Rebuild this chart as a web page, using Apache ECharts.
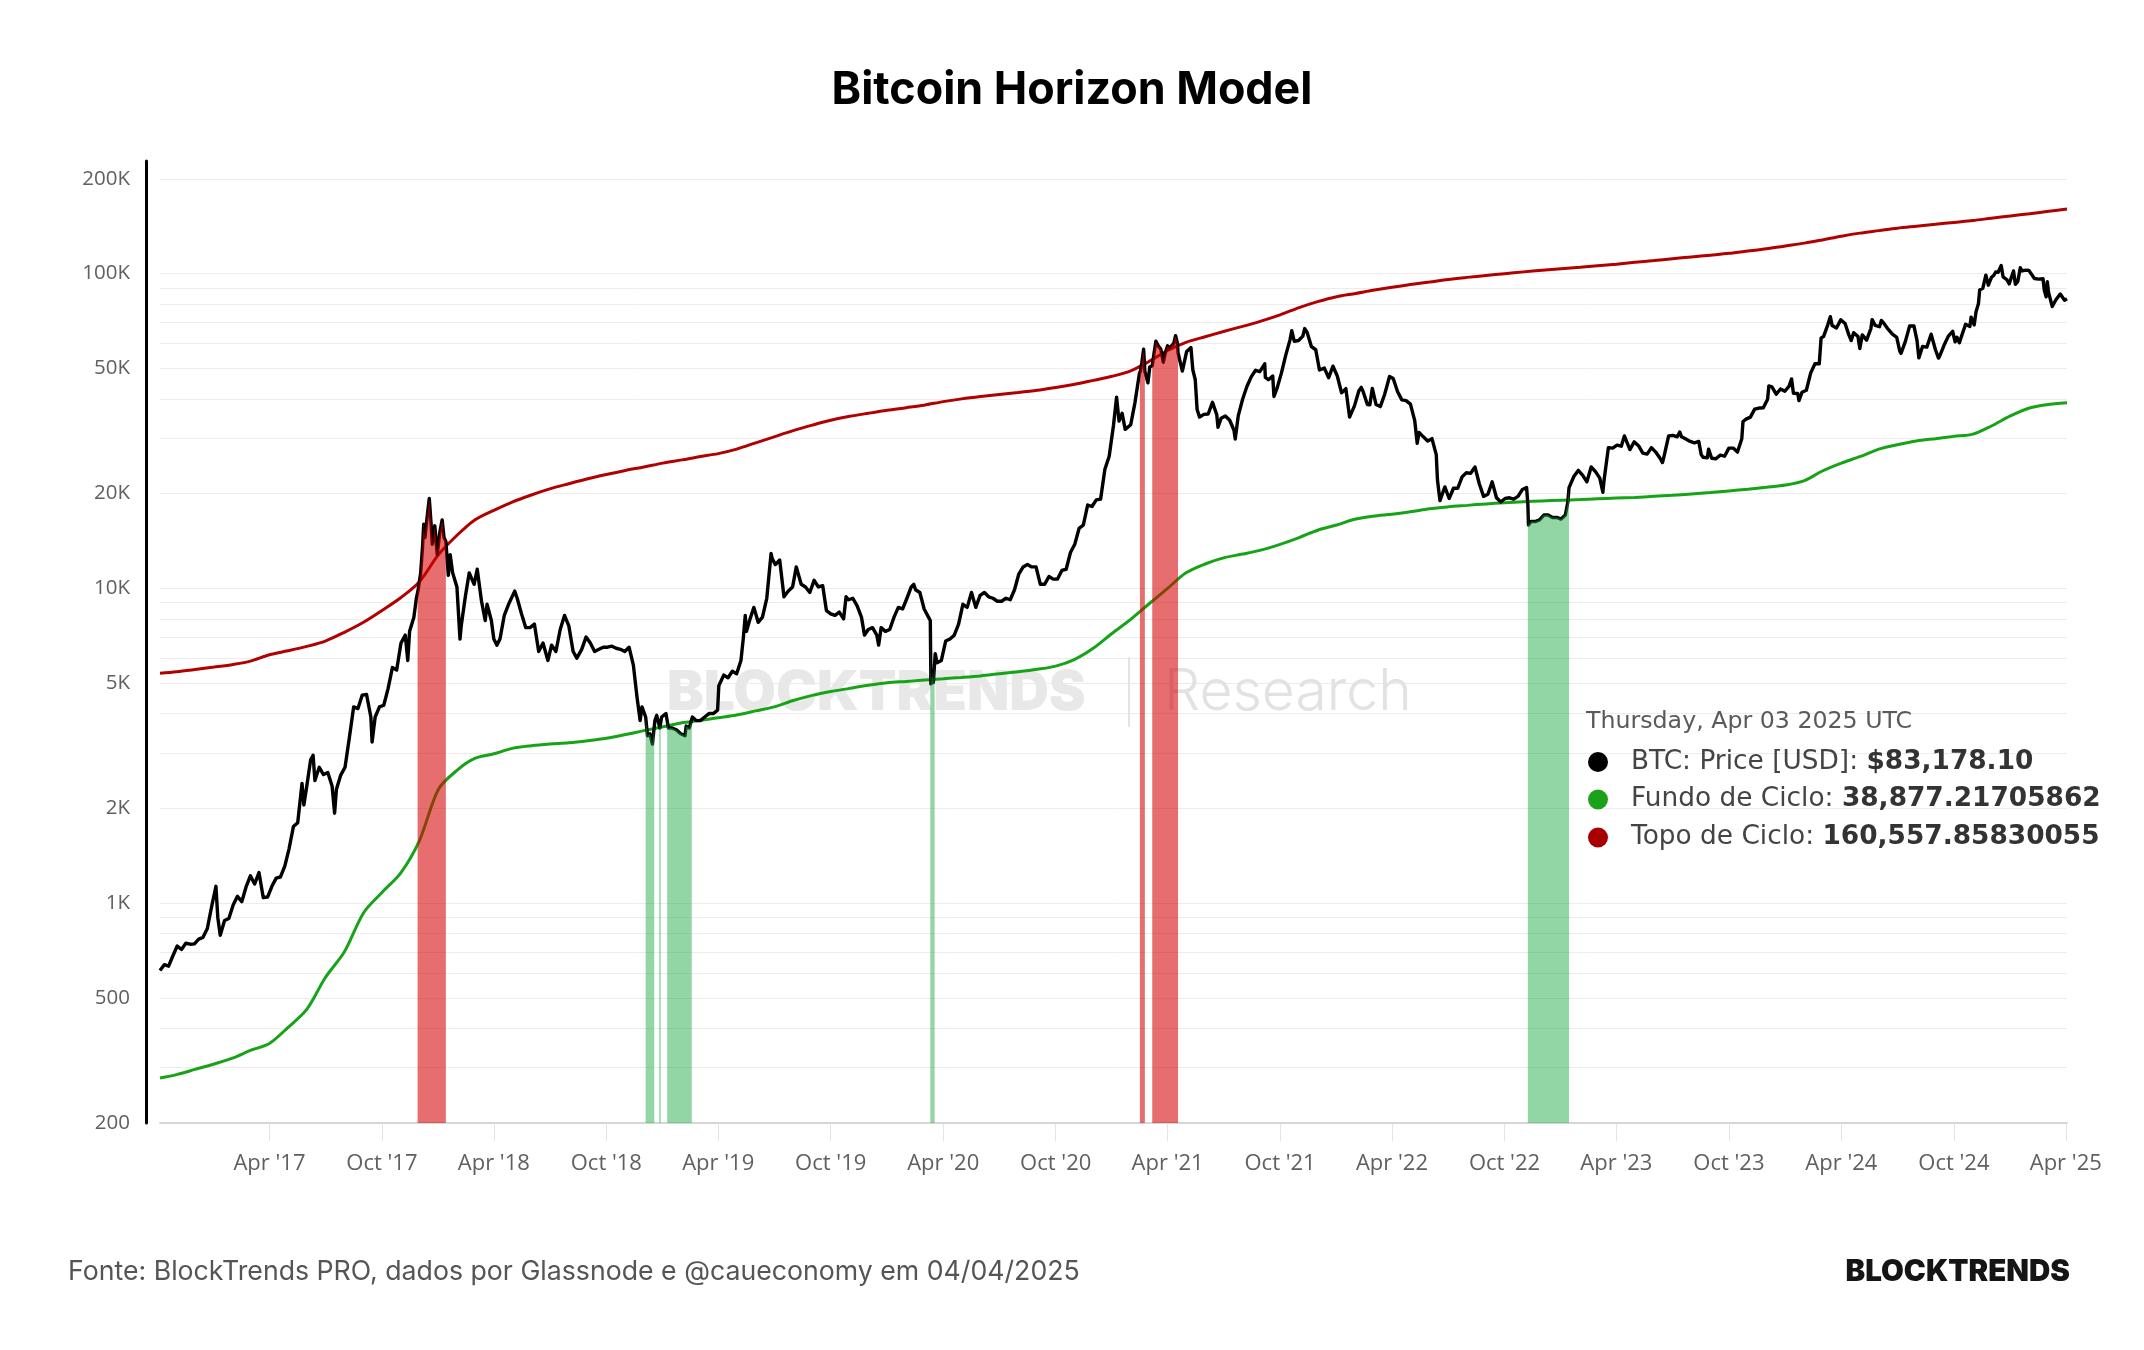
<!DOCTYPE html>
<html><head><meta charset="utf-8">
<script src="https://cdn.jsdelivr.net/npm/echarts@6/dist/echarts.min.js"></script>
<style>html,body{margin:0;padding:0;background:#fff}#c{width:2144px;height:1350px}</style>
</head><body><div id="c"></div>
<script>
// ---------- DATA ----------
const priceDates = [
'2016-10-05','2016-10-12','2016-10-19','2016-10-26','2016-11-02','2016-11-09','2016-11-16','2016-11-23','2016-11-30','2016-12-07','2016-12-14','2016-12-21','2016-12-28',
'2017-01-04','2017-01-07','2017-01-11','2017-01-18','2017-01-25','2017-02-01','2017-02-08','2017-02-15','2017-02-22','2017-03-01','2017-03-08','2017-03-15','2017-03-22','2017-03-29',
'2017-04-05','2017-04-12','2017-04-19','2017-04-26','2017-05-03','2017-05-10','2017-05-17','2017-05-24','2017-05-27','2017-05-31','2017-06-07','2017-06-11','2017-06-14','2017-06-21','2017-06-28',
'2017-07-05','2017-07-12','2017-07-16','2017-07-19','2017-07-26','2017-08-02','2017-08-09','2017-08-16','2017-08-23','2017-08-30','2017-09-06','2017-09-13','2017-09-15','2017-09-20','2017-09-27',
'2017-10-04','2017-10-11','2017-10-18','2017-10-25','2017-11-01','2017-11-08','2017-11-12','2017-11-15','2017-11-22','2017-11-26','2017-11-29','2017-12-03','2017-12-06','2017-12-08','2017-12-10','2017-12-13','2017-12-17','2017-12-20','2017-12-22','2017-12-26','2017-12-30',
'2018-01-03','2018-01-07','2018-01-10','2018-01-13','2018-01-17','2018-01-20','2018-01-24','2018-01-31','2018-02-05','2018-02-07','2018-02-14','2018-02-20','2018-02-28','2018-03-05','2018-03-12','2018-03-18','2018-03-21','2018-03-28',
'2018-04-01','2018-04-06','2018-04-11','2018-04-18','2018-04-25','2018-05-05','2018-05-09','2018-05-16','2018-05-23','2018-05-30','2018-06-06','2018-06-13','2018-06-20','2018-06-28',
'2018-07-04','2018-07-11','2018-07-18','2018-07-25','2018-08-01','2018-08-08','2018-08-14','2018-08-22','2018-08-29','2018-09-05','2018-09-12','2018-09-19','2018-09-26',
'2018-10-03','2018-10-10','2018-10-17','2018-10-24','2018-10-31','2018-11-07','2018-11-14','2018-11-20','2018-11-25','2018-11-28','2018-12-01','2018-12-04','2018-12-07','2018-12-11','2018-12-15','2018-12-19','2018-12-22','2018-12-24','2018-12-27','2018-12-30',
'2019-01-06','2019-01-10','2019-01-16','2019-01-23','2019-01-30','2019-02-06','2019-02-08','2019-02-13','2019-02-18','2019-02-24','2019-03-03','2019-03-10','2019-03-17','2019-03-24','2019-03-31',
'2019-04-02','2019-04-10','2019-04-17','2019-04-24','2019-05-01','2019-05-08','2019-05-12','2019-05-15','2019-05-17','2019-05-22','2019-05-29','2019-06-05','2019-06-12','2019-06-19','2019-06-26','2019-06-28',
'2019-07-03','2019-07-10','2019-07-17','2019-07-24','2019-07-31','2019-08-06','2019-08-14','2019-08-21','2019-08-28','2019-09-04','2019-09-11','2019-09-18','2019-09-24',
'2019-10-01','2019-10-08','2019-10-15','2019-10-22','2019-10-26','2019-10-30','2019-11-06','2019-11-13','2019-11-20','2019-11-25','2019-12-01','2019-12-08','2019-12-15','2019-12-18','2019-12-22','2019-12-29',
'2020-01-05','2020-01-12','2020-01-19','2020-01-26','2020-02-02','2020-02-09','2020-02-13','2020-02-16','2020-02-23','2020-03-01','2020-03-08','2020-03-11','2020-03-12','2020-03-14','2020-03-16','2020-03-19','2020-03-22','2020-03-29',
'2020-04-05','2020-04-12','2020-04-19','2020-04-26','2020-05-03','2020-05-10','2020-05-17','2020-05-24','2020-05-31','2020-06-07','2020-06-14','2020-06-21','2020-06-28',
'2020-07-05','2020-07-12','2020-07-19','2020-07-26','2020-08-02','2020-08-09','2020-08-16','2020-08-23','2020-08-30','2020-09-06','2020-09-13','2020-09-20','2020-09-27',
'2020-10-04','2020-10-11','2020-10-18','2020-10-25','2020-11-01','2020-11-08','2020-11-15','2020-11-22','2020-11-29','2020-12-06','2020-12-13','2020-12-20','2020-12-27',
'2021-01-03','2021-01-08','2021-01-12','2021-01-17','2021-01-22','2021-01-24','2021-01-31','2021-02-07','2021-02-14','2021-02-16','2021-02-18','2021-02-21','2021-02-23','2021-02-28',
'2021-03-03','2021-03-07','2021-03-10','2021-03-13','2021-03-17','2021-03-21','2021-03-25','2021-03-28','2021-04-01','2021-04-04','2021-04-11','2021-04-14','2021-04-17','2021-04-18','2021-04-25',
'2021-05-02','2021-05-09','2021-05-12','2021-05-16','2021-05-19','2021-05-23','2021-05-30','2021-06-06','2021-06-13','2021-06-20','2021-06-22','2021-06-27',
'2021-07-04','2021-07-11','2021-07-18','2021-07-20','2021-07-25','2021-08-01','2021-08-08','2021-08-15','2021-08-22','2021-08-29','2021-09-06','2021-09-07','2021-09-12','2021-09-19','2021-09-21','2021-09-26',
'2021-10-03','2021-10-10','2021-10-17','2021-10-20','2021-10-24','2021-10-31','2021-11-07','2021-11-10','2021-11-14','2021-11-21','2021-11-28','2021-12-04','2021-12-12','2021-12-19','2021-12-26',
'2022-01-02','2022-01-09','2022-01-16','2022-01-22','2022-01-30','2022-02-06','2022-02-10','2022-02-13','2022-02-20','2022-02-24','2022-02-28','2022-03-06','2022-03-13','2022-03-20','2022-03-28',
'2022-04-03','2022-04-10','2022-04-17','2022-04-24','2022-05-01','2022-05-08','2022-05-12','2022-05-15','2022-05-22','2022-05-29','2022-06-05','2022-06-12','2022-06-14','2022-06-18','2022-06-26',
'2022-07-03','2022-07-10','2022-07-17','2022-07-24','2022-07-31','2022-08-07','2022-08-14','2022-08-21','2022-08-28','2022-09-04','2022-09-11','2022-09-18','2022-09-25',
'2022-10-02','2022-10-09','2022-10-16','2022-10-23','2022-10-30','2022-11-06','2022-11-08','2022-11-09','2022-11-13','2022-11-20','2022-11-27','2022-12-04','2022-12-11','2022-12-18','2022-12-25',
'2023-01-01','2023-01-08','2023-01-12','2023-01-14','2023-01-22','2023-01-29','2023-02-05','2023-02-12','2023-02-19','2023-02-26','2023-03-05','2023-03-10','2023-03-12','2023-03-19','2023-03-26',
'2023-04-02','2023-04-09','2023-04-14','2023-04-16','2023-04-23','2023-04-30','2023-05-07','2023-05-14','2023-05-21','2023-05-28','2023-06-04','2023-06-11','2023-06-15','2023-06-18','2023-06-25',
'2023-07-02','2023-07-09','2023-07-13','2023-07-16','2023-07-23','2023-07-30','2023-08-06','2023-08-13','2023-08-17','2023-08-20','2023-08-27','2023-08-29','2023-09-03','2023-09-10','2023-09-17','2023-09-24',
'2023-10-01','2023-10-08','2023-10-15','2023-10-22','2023-10-24','2023-10-29','2023-11-05','2023-11-12','2023-11-19','2023-11-26','2023-12-03','2023-12-05','2023-12-10','2023-12-17','2023-12-24','2023-12-31',
'2024-01-07','2024-01-11','2024-01-14','2024-01-21','2024-01-23','2024-01-28','2024-02-04','2024-02-11','2024-02-18','2024-02-25','2024-02-28','2024-03-03','2024-03-10','2024-03-14','2024-03-17','2024-03-20','2024-03-24','2024-03-31',
'2024-04-07','2024-04-13','2024-04-17','2024-04-21','2024-04-28','2024-05-01','2024-05-05','2024-05-12','2024-05-19','2024-05-21','2024-05-26','2024-06-02','2024-06-05','2024-06-09','2024-06-16','2024-06-23','2024-06-30',
'2024-07-05','2024-07-07','2024-07-14','2024-07-21','2024-07-28','2024-08-02','2024-08-05','2024-08-11','2024-08-18','2024-08-25','2024-09-01','2024-09-06','2024-09-08','2024-09-15','2024-09-22','2024-09-29',
'2024-10-03','2024-10-06','2024-10-10','2024-10-13','2024-10-20','2024-10-27','2024-10-29','2024-11-03','2024-11-06','2024-11-10','2024-11-12','2024-11-17','2024-11-22','2024-11-26','2024-12-01','2024-12-05','2024-12-08','2024-12-12','2024-12-17','2024-12-20','2024-12-26','2024-12-30',
'2025-01-06','2025-01-09','2025-01-13','2025-01-17','2025-01-20','2025-01-26','2025-01-31','2025-02-03','2025-02-09','2025-02-16','2025-02-23','2025-02-25','2025-02-28','2025-03-02','2025-03-04','2025-03-10','2025-03-16','2025-03-23','2025-03-26','2025-03-30','2025-04-03'
];
const priceValues = [
610,637,630,680,730,712,745,740,742,768,778,830,975,
1130,900,790,880,893,985,1050,1010,1125,1220,1150,1250,1040,1045,
1130,1200,1210,1310,1490,1750,1800,2400,2050,2300,2850,2950,2450,2700,2560,
2600,2350,1930,2300,2550,2700,3350,4200,4150,4580,4600,3900,3250,3900,4200,
4250,4800,5600,5500,6700,7100,5900,7300,8100,9300,9900,11200,13500,16000,14500,16500,19300,16000,13800,15800,12800,
15000,16500,14500,14100,11000,12800,11200,10100,6900,7600,9500,11200,10300,11500,9100,7900,8900,7900,
6900,6600,6900,8200,8900,9800,9300,8300,7500,7500,7700,6300,6700,5900,
6600,6300,7400,8200,7600,6300,6000,6400,7000,6700,6300,6400,6500,
6500,6550,6450,6400,6300,6500,5700,4500,3800,4200,4200,3900,3400,3450,3200,3800,3950,4000,3600,3900,
4000,3600,3600,3550,3450,3400,3650,3600,3900,3800,3800,3900,4000,4000,4100,
4900,5300,5200,5450,5350,5900,7000,8200,7300,7900,8700,7800,8100,9300,12900,12400,
11900,12300,9400,9800,10100,11700,10300,10100,9700,10600,10100,10200,8500,
8300,8200,8400,8000,9400,9200,9300,8800,8100,7100,7400,7500,7100,6600,7500,7300,
7400,8100,8700,8600,9300,10100,10300,9900,9700,8600,8100,7900,4970,5400,5020,6200,5800,5900,
6800,6900,7100,7700,8900,8700,9700,8700,9500,9700,9400,9300,9100,
9100,9300,9200,9900,11100,11700,11900,11700,11700,10300,10300,10900,10700,
10700,11400,11500,13000,13800,15500,15900,18400,18200,19100,19200,23900,26300,
33000,40500,34000,36000,32000,32300,33100,39000,48000,49200,52000,57500,48900,45000,
50500,51000,56000,61000,58900,57500,52300,55800,59000,58000,60000,63500,60000,56000,49000,
56600,58200,49500,46000,37000,35000,35700,35800,39000,35600,32500,34700,
35300,34200,31800,29800,35400,39900,43800,47000,49300,48800,51700,46800,46000,47300,40700,43200,
48200,54900,61500,65900,61000,61300,63300,66900,65000,58600,57300,49400,50100,46700,50800,
47300,41800,43100,35000,38000,42400,43500,42200,38400,38300,43200,38400,37800,41300,47100,
46400,42200,39700,39500,38500,34100,28900,31300,30300,29400,29900,26600,22100,19000,21000,
19300,20800,20800,22600,23300,23200,24300,21500,19600,19900,21800,19400,18800,
19300,19400,19200,19600,20600,20900,18500,15900,16300,16300,16500,17100,17100,16800,16800,
16600,17100,18800,20900,22700,23700,22900,21800,24300,23500,22400,20200,22100,28000,27900,
28500,28300,30500,30300,27600,29200,28400,26900,26700,28000,27100,25900,25100,26500,30500,
30600,30300,31400,30300,29800,29300,29000,29300,26600,26100,26000,27700,25900,25800,26500,26300,
27900,27900,27100,29900,33900,34500,35000,37100,37400,37500,39900,44000,43700,41400,43000,42300,
43900,46300,41700,41600,39500,42000,42600,48300,51700,51700,62500,63100,68900,73000,68400,67900,67200,71300,
69400,64000,61300,64900,63100,57800,63900,61500,66900,71400,68500,67800,71000,69600,66600,64200,62700,
56700,55800,60800,68200,68200,61400,54000,58700,58400,64200,57300,53900,54800,59200,63300,65600,
60700,62800,60300,62900,69000,67900,72700,68700,75600,80400,88700,89800,98900,91900,97200,98800,101200,101000,106100,97700,95800,92800,
102000,92500,94500,104400,102000,102600,102400,101400,96500,96100,96300,88700,84400,94300,87200,78600,82600,86100,86900,82300,83178
];
const bandDates = [
'2016-10-05','2016-11-01','2016-12-01',
'2017-01-01','2017-02-01','2017-03-01','2017-04-01','2017-05-01','2017-06-01','2017-07-01','2017-08-01','2017-09-01','2017-10-01','2017-11-01','2017-12-01',
'2018-01-01','2018-02-01','2018-03-01','2018-04-01','2018-05-01','2018-06-01','2018-07-01','2018-08-01','2018-09-01','2018-10-01','2018-11-01','2018-12-01',
'2019-01-01','2019-02-01','2019-03-01','2019-04-01','2019-05-01','2019-06-01','2019-07-01','2019-08-01','2019-09-01','2019-10-01','2019-11-01','2019-12-01',
'2020-01-01','2020-02-01','2020-03-01','2020-04-01','2020-05-01','2020-06-01','2020-07-01','2020-08-01','2020-09-01','2020-10-01','2020-11-01','2020-12-01',
'2021-01-01','2021-02-01','2021-03-01','2021-04-01','2021-05-01','2021-06-01','2021-07-01','2021-08-01','2021-09-01','2021-10-01','2021-11-01','2021-12-01',
'2022-01-01','2022-02-01','2022-03-01','2022-04-01','2022-05-01','2022-06-01','2022-07-01','2022-08-01','2022-09-01','2022-10-01','2022-11-01','2022-12-01',
'2023-01-01','2023-02-01','2023-03-01','2023-04-01','2023-05-01','2023-06-01','2023-07-01','2023-08-01','2023-09-01','2023-10-01','2023-11-01','2023-12-01',
'2024-01-01','2024-02-01','2024-03-01','2024-04-01','2024-05-01','2024-06-01','2024-07-01','2024-08-01','2024-09-01','2024-10-01','2024-11-01','2024-12-01',
'2025-01-01','2025-02-01','2025-03-01','2025-04-03'
];
const topoValues = [
5370,5430,5520,
5620,5730,5870,6150,6330,6540,6800,7250,7800,8500,9350,10500,
12800,14800,16500,17700,18800,19800,20700,21500,22300,23000,23700,24300,
25000,25600,26200,26800,27700,29000,30300,31700,33000,34200,35200,36000,
36800,37500,38200,39200,40000,40700,41300,41900,42600,43500,44500,45800,
47200,49200,52500,57000,60500,63000,65500,68000,70800,74000,78000,81500,
84500,86500,88500,90500,92300,94000,95800,97300,98700,100000,101300,102500,
103700,104800,106000,107200,108600,110000,111500,113000,114500,116000,118000,120000,
122500,125000,128000,131500,134500,137000,139500,141500,143500,145500,147500,150000,
152500,155000,157500,160558
];
const fundoValues = [
278,285,296,
308,322,340,358,402,460,580,700,930,1080,1250,1580,
2300,2650,2880,2980,3100,3160,3200,3230,3280,3340,3430,3530,
3630,3740,3800,3880,3960,4080,4200,4400,4570,4700,4810,4920,
5010,5060,5110,5160,5210,5270,5350,5430,5530,5660,5950,6450,
7200,8000,8900,10000,11200,11950,12500,12850,13250,13800,14500,15300,
15900,16600,16950,17200,17500,17900,18150,18350,18550,18700,18850,18950,
19050,19150,19250,19350,19450,19600,19750,19950,20150,20400,20650,20950,
21300,22000,23600,25000,26200,27700,28600,29400,29900,30400,30900,32800,
35300,37400,38300,38877
];
// periods where price was above the top band ("top") or below the bottom band ("bottom")
const zoneStarts = ['2017-11-28','2018-12-04','2018-12-26','2019-01-08','2020-03-11','2021-02-15','2021-03-07','2022-11-08'];
const zoneEnds   = ['2018-01-13','2018-12-18','2018-12-28','2019-02-17','2020-03-18','2021-02-23','2021-04-18','2023-01-14'];
const zoneTypes  = ['top','bottom','bottom','bottom','bottom','top','top','bottom'];
const yLabelValues = [200,500,1000,2000,5000,10000,20000,50000,100000,200000];
const yGridValues = [200,300,400,500,600,700,800,900,1000,2000,3000,4000,5000,6000,7000,8000,9000,10000,20000,30000,40000,50000,60000,70000,80000,90000,100000,200000];
const xTickDates = ['2017-04-01','2017-10-01','2018-04-01','2018-10-01','2019-04-01','2019-10-01','2020-04-01','2020-10-01','2021-04-01','2021-10-01','2022-04-01','2022-10-01','2023-04-01','2023-10-01','2024-04-01','2024-10-01','2025-04-01'];

// ---------- BUILD ----------
const ts = s => Date.parse(s + 'T00:00:00Z');
const priceTs = priceDates.map(ts);
const priceData = priceTs.map((t, i) => [t, priceValues[i]]);
const topoData = bandDates.map((d, i) => [ts(d), topoValues[i]]);
const fundoData = bandDates.map((d, i) => [ts(d), fundoValues[i]]);
const zoneData = zoneStarts.map((s, i) => [ts(s), ts(zoneEnds[i]), zoneTypes[i] === 'top' ? 1 : 0, 1000]);
const MON = ['Jan','Feb','Mar','Apr','May','Jun','Jul','Aug','Sep','Oct','Nov','Dec'];

function clipCurve(pts, x0, x1) {
  const out = [];
  for (let i = 0; i < pts.length - 1; i++) {
    const a = pts[i], b = pts[i + 1];
    if (b[0] < x0 || a[0] > x1) continue;
    const lerp = x => [x, a[1] + (b[1] - a[1]) * (x - a[0]) / ((b[0] - a[0]) || 1)];
    const st = a[0] < x0 ? lerp(x0) : a;
    const en = b[0] > x1 ? lerp(x1) : b;
    if (!out.length) out.push(st);
    out.push(en);
  }
  return out;
}

const chart = echarts.init(document.getElementById('c'), null, {renderer: 'canvas'});
const option = {
  backgroundColor: '#ffffff',
  animation: false,
  title: {
    text: 'Bitcoin Horizon Model', left: 'center', top: 63,
    textStyle: {fontFamily: 'Inter', fontWeight: 700, fontSize: 44.8, color: '#000'}
  },
  grid: {left: 160, right: 77, top: 161, bottom: 227, containLabel: false},
  xAxis: {
    type: 'value', min: ts('2016-10-05'), max: ts('2025-04-03'),
    axisLine: {show: true, lineStyle: {color: '#d6d6d6', width: 2}},
    axisTick: {show: true, length: 18, lineStyle: {color: '#e3e3e3', width: 1}, customValues: xTickDates.map(ts)},
    axisLabel: {
      customValues: xTickDates.map(ts), color: '#606060', fontSize: 22, fontFamily: 'Open Sans', margin: 30,
      formatter: v => { const d = new Date(v); return MON[d.getUTCMonth()] + " '" + String(d.getUTCFullYear()).slice(2); }
    },
    splitLine: {show: false}
  },
  yAxis: {
    type: 'log', logBase: 10, min: 200, max: 228000, offset: 14,
    axisLine: {show: true, lineStyle: {color: '#000', width: 3}},
    axisTick: {show: false, customValues: yGridValues},
    axisLabel: {
      customValues: yLabelValues, color: '#606060', fontSize: 20.5, fontFamily: 'Open Sans', margin: 16,
      formatter: v => { const r = Math.round(v); return r >= 1000 ? (r / 1000) + 'K' : String(r); }
    },
    splitLine: {show: true, lineStyle: {color: '#ececec', width: 1}}
  },
  graphic: [
    {type: 'text', z: 1, style: {x: 667, y: 693, text: 'BLOCKTRENDS', font: '900 55px Inter', fill: '#e8e8e8', textVerticalAlign: 'middle'}},
    {type: 'line', z: 1, shape: {x1: 1129, y1: 657, x2: 1129, y2: 727}, style: {stroke: '#e4e4e4', lineWidth: 2}},
    {type: 'text', z: 1, style: {x: 1164, y: 693, text: 'Research', font: '300 57px Inter', fill: '#e2e2e2', textVerticalAlign: 'middle'}},
    {type: 'text', z: 20, style: {x: 1586, y: 721.5, text: 'Thursday, Apr 03 2025 UTC', font: '23.7px "DejaVu Sans"', fill: '#5a5a5a', textVerticalAlign: 'middle'}},
    {type: 'circle', z: 20, shape: {cx: 1598, cy: 762, r: 10}, style: {fill: '#000'}},
    {type: 'circle', z: 20, shape: {cx: 1598, cy: 799.5, r: 10}, style: {fill: '#1aa31a'}},
    {type: 'circle', z: 20, shape: {cx: 1598, cy: 837.5, r: 10}, style: {fill: '#a80000'}},
    {type: 'text', z: 20, style: {x: 1631, y: 762, text: '{a|BTC: Price [USD]: }{b|$83,178.10}', textVerticalAlign: 'middle',
      rich: {a: {font: '26.4px "DejaVu Sans"', fill: '#444'}, b: {font: 'bold 26.4px "DejaVu Sans"', fill: '#333'}}}},
    {type: 'text', z: 20, style: {x: 1631, y: 799.5, text: '{a|Fundo de Ciclo: }{b|38,877.21705862}', textVerticalAlign: 'middle',
      rich: {a: {font: '26.4px "DejaVu Sans"', fill: '#444'}, b: {font: 'bold 26.4px "DejaVu Sans"', fill: '#333'}}}},
    {type: 'text', z: 20, style: {x: 1631, y: 837.5, text: '{a|Topo de Ciclo: }{b|160,557.85830055}', textVerticalAlign: 'middle',
      rich: {a: {font: '26.4px "DejaVu Sans"', fill: '#444'}, b: {font: 'bold 26.4px "DejaVu Sans"', fill: '#333'}}}},
    {type: 'text', z: 20, style: {x: 68, y: 1272, text: 'Fonte: BlockTrends PRO, dados por Glassnode e @caueconomy em 04/04/2025', font: '26.7px Inter', fill: '#555', textVerticalAlign: 'middle'}},
    {type: 'text', z: 20, style: {x: 2070, y: 1272, text: 'BLOCKTRENDS', font: '900 29.5px Inter', fill: '#151515', textAlign: 'right', textVerticalAlign: 'middle'}}
  ],
  series: [
    {name: 'Topo de Ciclo', type: 'line', data: topoData, showSymbol: false, symbol: 'none', smooth: 0.3, z: 2,
      lineStyle: {color: '#b00000', width: 3}},
    {name: 'Fundo de Ciclo', type: 'line', data: fundoData, showSymbol: false, symbol: 'none', smooth: 0.3, z: 2,
      lineStyle: {color: '#17a317', width: 3}},
    {name: 'BTC: Price [USD]', type: 'line', data: priceData, showSymbol: false, symbol: 'none', z: 3,
      lineStyle: {color: '#000', width: 3.4, join: 'round'}},
    {name: 'zones', type: 'custom', z: 4, clip: false, data: zoneData, encode: {x: [0, 1], y: 3},
      renderItem: function (params, api) {
        const s = api.value(0), e = api.value(1), t = api.value(2);
        const p0 = api.coord([s, 200]);
        const x0 = p0[0], yb = p0[1];
        let x1 = api.coord([e, 200])[0];
        if (x1 - x0 < 1.5) x1 = x0 + 1.5;
        const pts = priceData.map(d => api.coord(d));
        const top = clipCurve(pts, x0, x1);
        const poly = [[x0, yb]].concat(top, [[x1, yb]]);
        return {type: 'polygon', shape: {points: poly},
          style: {fill: t === 1 ? 'rgba(213,0,0,0.57)' : 'rgba(30,170,70,0.48)'}};
      }}
  ]
};
chart.setOption(option);
</script>
</body></html>
